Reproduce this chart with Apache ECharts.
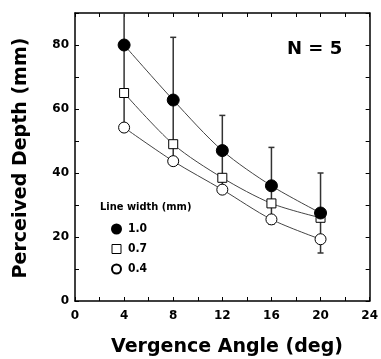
<!DOCTYPE html>
<html><head><meta charset="utf-8">
<script src="https://cdn.jsdelivr.net/npm/echarts@6/dist/echarts.min.js"></script>
<style>html,body{margin:0;padding:0;background:#fff}#c{width:381px;height:359px}</style>
</head><body><div id="c"></div>
<script>
var xs = [4, 8, 12, 16, 20];
var w10 = [80, 62.8, 47, 36, 27.5];
var w10err = [26, 19.6, 11, 12, 12.5];
var w07 = [65, 49, 38.5, 30.5, 26];
var w04 = [54.2, 43.7, 34.8, 25.5, 19.3];
var seriesNames = ['1.0', '0.7', '0.4'];
var xTickLabels = [0, 4, 8, 12, 16, 20, 24];
var yTickLabels = [0, 20, 40, 60, 80];

function pairs(v){ return xs.map(function(x,i){ return [x, v[i]]; }); }
var errData = xs.map(function(x,i){ return [x, w10[i]-w10err[i], w10[i]+w10err[i]]; });

var F = 'DejaVu Sans, Liberation Sans, Arial, sans-serif';
var FN = 'DejaVu Sans Condensed, Liberation Sans Narrow, Liberation Sans, Arial, sans-serif';
var tickStyle = {show:true, inside:true, length:4, lineStyle:{color:'#000', width:1}};
function xAx(pos, labels){
  return {type:'value', position:pos, min:0, max:24, interval:2,
    axisLine:{show:true, onZero:false, lineStyle:{color:'#000', width:1.5}},
    axisTick:tickStyle, splitLine:{show:false},
    axisLabel:{show:labels, margin:9, color:'#000', fontFamily:F, fontWeight:'bold', fontSize:12,
      formatter:function(v){ return xTickLabels.indexOf(v)>=0 ? String(v) : ''; }}};
}
function yAx(pos, labels){
  return {type:'value', position:pos, min:0, max:90, interval:10,
    axisLine:{show:true, onZero:false, lineStyle:{color:'#000', width:1.5}},
    axisTick:tickStyle, splitLine:{show:false},
    axisLabel:{show:labels, margin:6, color:'#000', fontFamily:F, fontWeight:'bold', fontSize:12,
      formatter:function(v){ return yTickLabels.indexOf(v)>=0 ? String(v) : ''; }}};
}
var lineStyle = {color:'#444', width:1};
var chart = echarts.init(document.getElementById('c'), null, {renderer:'canvas'});
chart.setOption({
  animation:false,
  grid:{left:75, right:6, top:13, bottom:58},
  xAxis:[xAx('bottom', true), xAx('top', false)],
  yAxis:[yAx('left', true), yAx('right', false)],
  legend:{orient:'vertical', left:111, top:222, padding:0, itemWidth:9, itemHeight:9, itemGap:6,
    textStyle:{fontFamily:FN, fontWeight:'bold', fontSize:12, lineHeight:14, color:'#000', padding:[0,0,0,2]},
    data:[{name:seriesNames[0], icon:'circle'},{name:seriesNames[1], icon:'rect', itemStyle:{borderWidth:1}},{name:seriesNames[2], icon:'circle'}]},
  graphic:[
    {type:'text', left:100, top:202, style:{text:'Line width (mm)', fontFamily:FN, fontWeight:'bold', fontSize:11, fill:'#000'}},
    {type:'text', left:287, top:40, style:{text:'N = 5', fontFamily:F, fontWeight:'bold', fontSize:18, fill:'#000'}},
    {type:'text', x:227, y:347, style:{text:'Vergence Angle (deg)', fontFamily:F, fontWeight:'bold', fontSize:19, fill:'#000', align:'center', verticalAlign:'middle'}},
    {type:'text', x:21, y:158, rotation:Math.PI/2, style:{text:'Perceived Depth (mm)', fontFamily:F, fontWeight:'bold', fontSize:19, fill:'#000', align:'center', verticalAlign:'middle'}}
  ],
  series:[
    {type:'custom', name:'err', z:1, data:errData, encode:{x:0, y:[1,2]},
      renderItem:function(params, api){
        var top = params.coordSys.y;
        var p0 = api.coord([api.value(0), api.value(1)]);
        var p1 = api.coord([api.value(0), api.value(2)]);
        var children = [];
        var yTop = Math.max(p1[1], top);
        children.push({type:'line', shape:{x1:p0[0], y1:p0[1], x2:p0[0], y2:yTop}, style:{stroke:'#333', lineWidth:1.5}});
        if (p1[1] >= top) children.push({type:'line', shape:{x1:p0[0]-3, y1:p1[1], x2:p0[0]+3, y2:p1[1]}, style:{stroke:'#333', lineWidth:1.5}});
        children.push({type:'line', shape:{x1:p0[0]-3, y1:p0[1], x2:p0[0]+3, y2:p0[1]}, style:{stroke:'#333', lineWidth:1.5}});
        return {type:'group', children:children};
      }},
    {type:'line', name:seriesNames[2], z:2, data:pairs(w04), smooth:0.3, symbol:'circle', symbolSize:11,
      lineStyle:lineStyle, itemStyle:{color:'#fff', borderColor:'#000', borderWidth:1}},
    {type:'line', name:seriesNames[1], z:3, data:pairs(w07), smooth:0.3, symbol:'rect', symbolSize:9,
      lineStyle:lineStyle, itemStyle:{color:'#fff', borderColor:'#000', borderWidth:1}},
    {type:'line', name:seriesNames[0], z:4, data:pairs(w10), smooth:0.3, symbol:'circle', symbolSize:12,
      lineStyle:lineStyle, itemStyle:{color:'#000', borderColor:'#000', borderWidth:1}}
  ]
});
</script></body></html>
